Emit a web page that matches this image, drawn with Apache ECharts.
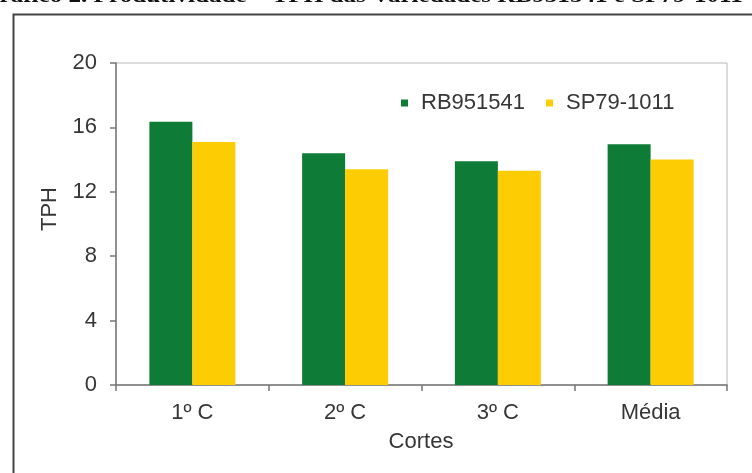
<!DOCTYPE html>
<html>
<head>
<meta charset="utf-8">
<script src="https://cdn.jsdelivr.net/npm/echarts@6/dist/echarts.min.js"></script>
<style>html,body{margin:0;padding:0;background:#fff}#c{width:752px;height:473px}</style>
</head>
<body>
<div id="c"></div>
<script>
const categories = ['1º C', '2º C', '3º C', 'Média'];
const seriesNames = ['RB951541', 'SP79-1011'];
const rb951541 = [16.35, 14.4, 13.9, 14.95];
const sp791011 = [15.1, 13.4, 13.3, 14.0];
const yTicks = [0, 4, 8, 12, 16, 20];
const titleText = 'Gráfico 2. Produtividade – TPH das Variedades RB951541 e SP79-1011';
const yName = 'TPH';
const xName = 'Cortes';

const chart = echarts.init(document.getElementById('c'), null, {renderer: 'canvas'});
const font = 'Liberation Sans, Arial, sans-serif';
const txt = '#363636';
chart.setOption({
  animation: false,
  backgroundColor: '#fff',
  grid: {left: 116, top: 63, right: 25, bottom: 88, show: true, borderColor: '#b8b8b8', borderWidth: 1},
  legend: {
    data: seriesNames, left: 401, top: 92, padding: 0, itemWidth: 7, itemHeight: 7, itemGap: 21,
    icon: 'rect',
    textStyle: {fontFamily: font, fontSize: 22, color: txt, padding: [0, 0, 0, 8]}
  },
  xAxis: {
    type: 'category', data: categories,
    axisLine: {lineStyle: {color: '#777', width: 1.5}},
    axisTick: {show: true, alignWithLabel: false, length: 6, lineStyle: {color: '#777', width: 1.5}},
    axisLabel: {fontFamily: font, fontSize: 22, color: txt, margin: 17}
  },
  yAxis: {
    type: 'value', min: yTicks[0], max: yTicks[yTicks.length - 1], interval: 4,
    axisLine: {show: true, lineStyle: {color: '#777', width: 1.5}},
    axisTick: {show: true, length: 6, lineStyle: {color: '#777', width: 1.5}},
    splitLine: {show: false},
    axisLabel: {fontFamily: font, fontSize: 22, color: txt, margin: 19}
  },
  series: [
    {name: seriesNames[0], type: 'bar', data: rb951541, barWidth: 43, barGap: '0%', itemStyle: {color: '#0e7c37'}},
    {name: seriesNames[1], type: 'bar', data: sp791011, barWidth: 43, barGap: '0%', itemStyle: {color: '#fdcc02'}}
  ],
  graphic: [
    {type: 'rect', left: 11, top: 12, shape: {width: 800, height: 520}, style: {fill: 'none', stroke: '#444', lineWidth: 2}, silent: true},
    {type: 'text', x: -20, y: 7, scaleX: 1.255, style: {text: titleText, font: 'bold 20px "Liberation Serif", "Times New Roman", serif', fill: '#111', textVerticalAlign: 'bottom'}},
    {type: 'text', x: 50, y: 209, rotation: Math.PI / 2, style: {text: yName, font: '22px ' + font, fill: txt, textAlign: 'center', textVerticalAlign: 'middle'}},
    {type: 'text', x: 421, y: 442, style: {text: xName, font: '22px ' + font, fill: txt, textAlign: 'center', textVerticalAlign: 'middle'}}
  ]
});
</script>
</body>
</html>
